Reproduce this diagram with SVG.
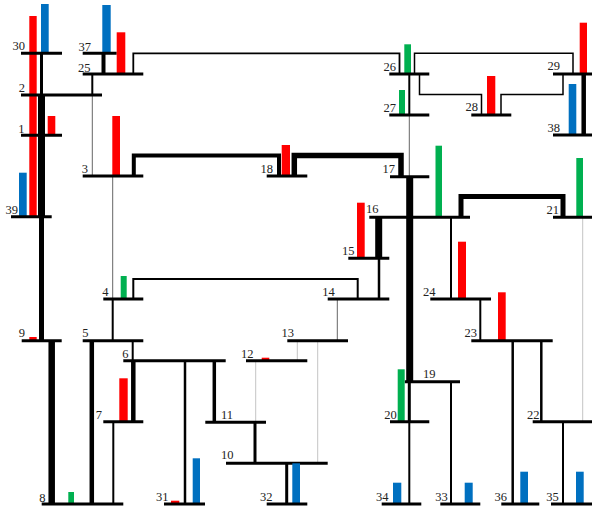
<svg xmlns="http://www.w3.org/2000/svg" width="592" height="509" viewBox="0 0 592 509">
<style>
.bus{stroke:#000;stroke-width:3;fill:none}
.c{fill:none;stroke:#000;stroke-linejoin:miter;stroke-linecap:butt}
.dg{stroke:#666;stroke-width:1}
.lg{stroke:#c4c4c4;stroke-width:1}
.lbl{font-family:"Liberation Serif","DejaVu Serif",serif;font-size:12.5px;text-anchor:end;fill:#222}
.r{fill:#ff0000}.b{fill:#0070c0}.g{fill:#00b050}
</style>
<rect width="592" height="509" fill="#fff"/>
<g id="connectors">
<path class="c" stroke-width="3" d="M41.5,53.3V95"/>
<path class="c" stroke-width="7" d="M41.5,95V135.3"/>
<path class="c" stroke-width="7" d="M41.5,135.3V216.7"/>
<path class="c" stroke-width="5" d="M41.5,216.7V340.7"/>
<path class="c" stroke-width="6.5" d="M51.7,340.7V504"/>
<path class="c" stroke-width="4" d="M103.5,53.3V74"/>
<path class="c" stroke-width="2" d="M92.3,74V95"/>
<path class="c dg" d="M92.3,95V176"/>
<path class="c" stroke-width="1.8" d="M133.3,74V53.3H399.5V74"/>
<path class="c" stroke-width="4" d="M133.8,176V155.5H279V176"/>
<path class="c" stroke-width="5.5" d="M294.3,176V155.5H401V176.7"/>
<path class="c dg" d="M112.7,176V299"/>
<path class="c" stroke-width="2" d="M112.7,299V340.7"/>
<path class="c" stroke-width="2" d="M133.3,299V279H357.7V299"/>
<path class="c" stroke-width="2" d="M132.7,340.7V360.7"/>
<path class="c" stroke-width="4.5" d="M91.8,340.7V504"/>
<path class="c" stroke-width="4.5" d="M133.3,360.7V421.7"/>
<path class="c" stroke-width="2" d="M113.3,421.7V504"/>
<path class="c" stroke-width="2.5" d="M185,360.7V504"/>
<path class="c" stroke-width="3.5" d="M214.3,360.7V422.3"/>
<path class="c" stroke-width="3" d="M255,422.3V463.3"/>
<path class="c lg" d="M255.7,360.7V422.3"/>
<path class="c lg" d="M297.3,340.7V360.7"/>
<path class="c lg" d="M317.7,340.7V463.3"/>
<path class="c" stroke-width="3" d="M286.7,463.3V504"/>
<path class="c dg" d="M337.3,299V340.7"/>
<path class="c" stroke-width="2.5" d="M379,258.3V299"/>
<path class="c" stroke-width="7" d="M378.7,217.3V258.3"/>
<path class="c" stroke-width="7" d="M409.7,176.7V217.3"/>
<path class="c" stroke-width="7" d="M409.7,217.3V381.7"/>
<path class="c" stroke-width="3" d="M409.3,381.7V421.7"/>
<path class="c" stroke-width="2" d="M409.3,421.7V504"/>
<path class="c" stroke-width="2" d="M451,381.7V504"/>
<path class="c" stroke-width="2" d="M409.3,74V115"/>
<path class="c dg" stroke="#777" d="M409.3,115V176.7"/>
<path class="c" stroke-width="1.5" d="M419.5,74V94.5H481.5V115"/>
<path class="c" stroke-width="1.5" d="M414.5,74V53.3H573V74"/>
<path class="c" stroke-width="1.5" d="M501,115V94.5H563V74"/>
<path class="c" stroke-width="4.5" d="M583.7,74V135"/>
<path class="c" stroke-width="5" d="M461,217.3V196.5H563V217.3"/>
<path class="c lg" d="M582.7,217.3V421.7"/>
<path class="c" stroke-width="2" d="M451,217.3V299"/>
<path class="c" stroke-width="2" d="M480.3,299V340.7"/>
<path class="c" stroke-width="2.5" d="M512.7,340.7V504"/>
<path class="c" stroke-width="2.5" d="M541.3,340.7V421.7"/>
<path class="c" stroke-width="2" d="M563,421.7V504"/>
</g>
<g id="n39"><rect class="r" x="29.3" y="16" width="7.4" height="200.7"/><rect class="b" x="19" y="172.7" width="7.7" height="44"/><line class="bus" x1="11" y1="216.7" x2="51.7" y2="216.7"/><text class="lbl" x="18" y="213.5">39</text></g>
<g id="n30"><rect class="b" x="41" y="4" width="7.7" height="49.3"/><line class="bus" x1="21" y1="53.3" x2="62" y2="53.3"/><text class="lbl" x="25" y="50">30</text></g>
<g id="n2"><line class="bus" x1="21" y1="95" x2="102" y2="95"/><text class="lbl" x="25" y="92">2</text></g>
<g id="n1"><rect class="r" x="47.7" y="116" width="7.6" height="19.3"/><line class="bus" x1="21" y1="135.3" x2="62" y2="135.3"/><text class="lbl" x="24.5" y="133">1</text></g>
<g id="n37"><rect class="b" x="102.3" y="5" width="8.4" height="48.3"/><line class="bus" x1="82.7" y1="53.3" x2="116.7" y2="53.3"/><text class="lbl" x="91" y="51">37</text></g>
<g id="n25"><rect class="r" x="116.7" y="32.3" width="8.6" height="41.7"/><line class="bus" x1="82.7" y1="74" x2="143.3" y2="74"/><text class="lbl" x="90.5" y="71.5">25</text></g>
<g id="n3"><rect class="r" x="112.3" y="116" width="7.7" height="60"/><line class="bus" x1="82.7" y1="176" x2="143.3" y2="176"/><text class="lbl" x="88" y="173">3</text></g>
<g id="n18"><rect class="r" x="281.7" y="145" width="8.3" height="31"/><line class="bus" x1="266.7" y1="176" x2="307.3" y2="176"/><text class="lbl" x="273" y="173.3">18</text></g>
<g id="n4"><rect class="g" x="120.7" y="276" width="6" height="23"/><line class="bus" x1="103.3" y1="299" x2="143.3" y2="299"/><text class="lbl" x="108.5" y="295.7">4</text></g>
<g id="n9"><rect class="r" x="29.3" y="337" width="7.4" height="3.7"/><line class="bus" x1="21.7" y1="340.7" x2="61.7" y2="340.7"/><text class="lbl" x="25" y="336.7">9</text></g>
<g id="n5"><line class="bus" x1="82.7" y1="340.7" x2="143.3" y2="340.7"/><text class="lbl" x="88.5" y="336.5">5</text></g>
<g id="n6"><line class="bus" x1="123.3" y1="360.7" x2="225.7" y2="360.7"/><text class="lbl" x="128.5" y="358">6</text></g>
<g id="n7"><rect class="r" x="119.3" y="378.3" width="8.4" height="43.4"/><line class="bus" x1="103.3" y1="421.7" x2="143.3" y2="421.7"/><text class="lbl" x="102" y="419">7</text></g>
<g id="n8"><rect class="g" x="68.3" y="492" width="5.7" height="12"/><line class="bus" x1="41.7" y1="504" x2="123.3" y2="504"/><text class="lbl" x="45.5" y="501.5">8</text></g>
<g id="n31"><rect class="r" x="171" y="500.7" width="8.3" height="3.3"/><rect class="b" x="192.7" y="458.3" width="7.3" height="45.7"/><line class="bus" x1="164" y1="504" x2="205" y2="504"/><text class="lbl" x="168.5" y="501">31</text></g>
<g id="n12"><rect class="r" x="261.7" y="357.7" width="7.6" height="3"/><line class="bus" x1="246" y1="360.7" x2="307.3" y2="360.7"/><text class="lbl" x="253.5" y="358">12</text></g>
<g id="n11"><line class="bus" x1="205.3" y1="422.3" x2="266" y2="422.3"/><text class="lbl" x="233" y="419">11</text></g>
<g id="n10"><line class="bus" x1="226" y1="463.3" x2="327.7" y2="463.3"/><text class="lbl" x="233.5" y="459">10</text></g>
<g id="n32"><rect class="b" x="292.3" y="463.3" width="7.7" height="40.7"/><line class="bus" x1="266.7" y1="504" x2="307.3" y2="504"/><text class="lbl" x="272.5" y="500.7">32</text></g>
<g id="n13"><line class="bus" x1="287.3" y1="340.7" x2="348" y2="340.7"/><text class="lbl" x="294" y="336.7">13</text></g>
<g id="n14"><line class="bus" x1="327.7" y1="299" x2="389.3" y2="299"/><text class="lbl" x="334.7" y="296">14</text></g>
<g id="n15"><rect class="r" x="357" y="202.7" width="7.7" height="55.6"/><line class="bus" x1="348.3" y1="258.3" x2="389.3" y2="258.3"/><text class="lbl" x="354.5" y="255">15</text></g>
<g id="n16"><rect class="g" x="435.5" y="145.7" width="6.5" height="71.6"/><line class="bus" x1="369.3" y1="217.3" x2="470" y2="217.3"/><text class="lbl" x="378.5" y="213.3">16</text></g>
<g id="n17"><line class="bus" x1="390" y1="176.7" x2="429.3" y2="176.7"/><text class="lbl" x="395" y="173.3">17</text></g>
<g id="n26"><rect class="g" x="404.3" y="44.3" width="6.7" height="29.7"/><line class="bus" x1="389.3" y1="74" x2="429.3" y2="74"/><text class="lbl" x="396" y="70.7">26</text></g>
<g id="n27"><rect class="g" x="399" y="90" width="6" height="25"/><line class="bus" x1="389.3" y1="115" x2="429.3" y2="115"/><text class="lbl" x="396" y="111.7">27</text></g>
<g id="n28"><rect class="r" x="487" y="76" width="8.3" height="39"/><line class="bus" x1="471.3" y1="115" x2="511.3" y2="115"/><text class="lbl" x="478" y="110.7">28</text></g>
<g id="n29"><rect class="r" x="579.7" y="22.7" width="7.3" height="51.3"/><line class="bus" x1="553" y1="74" x2="592" y2="74"/><text class="lbl" x="560" y="70">29</text></g>
<g id="n38"><rect class="b" x="568.7" y="84" width="7.6" height="51"/><line class="bus" x1="553" y1="135" x2="592" y2="135"/><text class="lbl" x="560" y="131.7">38</text></g>
<g id="n21"><rect class="g" x="576.3" y="158" width="6.7" height="59.3"/><line class="bus" x1="553" y1="217.3" x2="592" y2="217.3"/><text class="lbl" x="559" y="214.3">21</text></g>
<g id="n24"><rect class="r" x="458" y="241.7" width="8" height="57.3"/><line class="bus" x1="430.3" y1="299" x2="491" y2="299"/><text class="lbl" x="435.5" y="296">24</text></g>
<g id="n23"><rect class="r" x="498" y="292.3" width="7.7" height="48.4"/><line class="bus" x1="471.3" y1="340.7" x2="552.7" y2="340.7"/><text class="lbl" x="477" y="336.7">23</text></g>
<g id="n22"><line class="bus" x1="532.7" y1="421.7" x2="592" y2="421.7"/><text class="lbl" x="539.5" y="419">22</text></g>
<g id="n19"><line class="bus" x1="404.7" y1="381.7" x2="460" y2="381.7"/><text class="lbl" x="435.5" y="377.7">19</text></g>
<g id="n20"><rect class="g" x="397.7" y="369.3" width="7" height="52.4"/><line class="bus" x1="390" y1="421.7" x2="429.3" y2="421.7"/><text class="lbl" x="396.7" y="419">20</text></g>
<g id="n34"><rect class="b" x="393" y="482.7" width="8.3" height="21.3"/><line class="bus" x1="381.7" y1="504" x2="421.3" y2="504"/><text class="lbl" x="388.5" y="500.7">34</text></g>
<g id="n33"><rect class="b" x="464.7" y="482.7" width="8" height="21.3"/><line class="bus" x1="440.3" y1="504" x2="480.3" y2="504"/><text class="lbl" x="447.7" y="500.7">33</text></g>
<g id="n36"><rect class="b" x="520.3" y="471.7" width="7.7" height="32.3"/><line class="bus" x1="501.3" y1="504" x2="539.3" y2="504"/><text class="lbl" x="507" y="500.7">36</text></g>
<g id="n35"><rect class="b" x="576" y="471.7" width="7.7" height="32.3"/><line class="bus" x1="551" y1="504" x2="592" y2="504"/><text class="lbl" x="558.7" y="500.7">35</text></g>
</svg>
